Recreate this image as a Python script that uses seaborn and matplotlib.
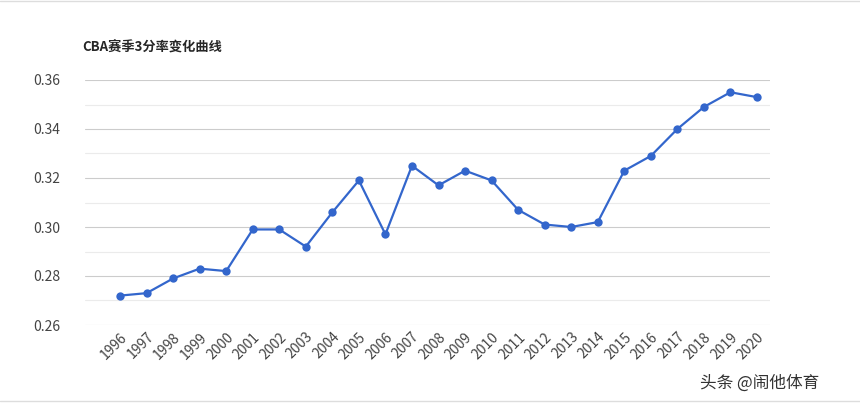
import matplotlib
matplotlib.use("Agg")
import matplotlib.pyplot as plt
import seaborn as sns
import pandas as pd

years = [str(y) for y in range(1996, 2021)]
rates = [0.272, 0.273, 0.279, 0.283, 0.282, 0.299, 0.299, 0.292, 0.306, 0.319,
         0.297, 0.325, 0.317, 0.323, 0.319, 0.307, 0.301, 0.300, 0.302, 0.323,
         0.329, 0.340, 0.349, 0.355, 0.353]
title = "CBA赛季3分率变化曲线"

sns.set_style("white")
plt.rcParams['font.family'] = ['Noto Sans CJK SC', 'DejaVu Sans']

df = pd.DataFrame({"idx": range(len(years)), "rate": rates})
fig = plt.figure(figsize=(8.6, 4.15), dpi=100)
ax = fig.add_axes([85/860, 90/415, 685/860, 245/415])

for v in [0.27, 0.29, 0.31, 0.33, 0.35]:
    ax.axhline(v, color='#ebebeb', lw=0.8, zorder=0)
for v in [0.26, 0.28, 0.30, 0.32, 0.34, 0.36]:
    ax.axhline(v, color='#cccccc', lw=0.8, zorder=0)

sns.lineplot(data=df, x="idx", y="rate", ax=ax, color='#3366cc', lw=1.6,
             marker='o', markersize=6, markeredgewidth=0)

ax.set_xlim(-1.32, 24.49)
ax.set_ylim(0.26, 0.36)
ax.set_yticks([0.26, 0.28, 0.30, 0.32, 0.34, 0.36])
ax.set_yticklabels([f"{v:.2f}" for v in [0.26, 0.28, 0.30, 0.32, 0.34, 0.36]])
ax.set_xticks(range(len(years)))
ax.set_xticklabels(years, rotation=45, ha='right', rotation_mode='anchor')
ax.tick_params(axis='both', labelsize=10, colors='#444444', length=0)
ax.tick_params(axis='y', pad=18)
ax.set_xlabel("")
ax.set_ylabel("")
for s in ax.spines.values():
    s.set_visible(False)

fig.text(82/860, 1 - 48/415, title, fontsize=9.5, fontweight='bold', va='center')
fig.text(700/860, 1 - 383/415, "头条 @闹他体育", fontsize=12, color='#333333', va='center')
fig.add_artist(plt.Line2D([0, 1], [1 - 1/415, 1 - 1/415], color='#dddddd', lw=1))
fig.add_artist(plt.Line2D([0, 1], [1 - 401/415, 1 - 401/415], color='#dddddd', lw=1))

fig.savefig("out.png", dpi=100)
